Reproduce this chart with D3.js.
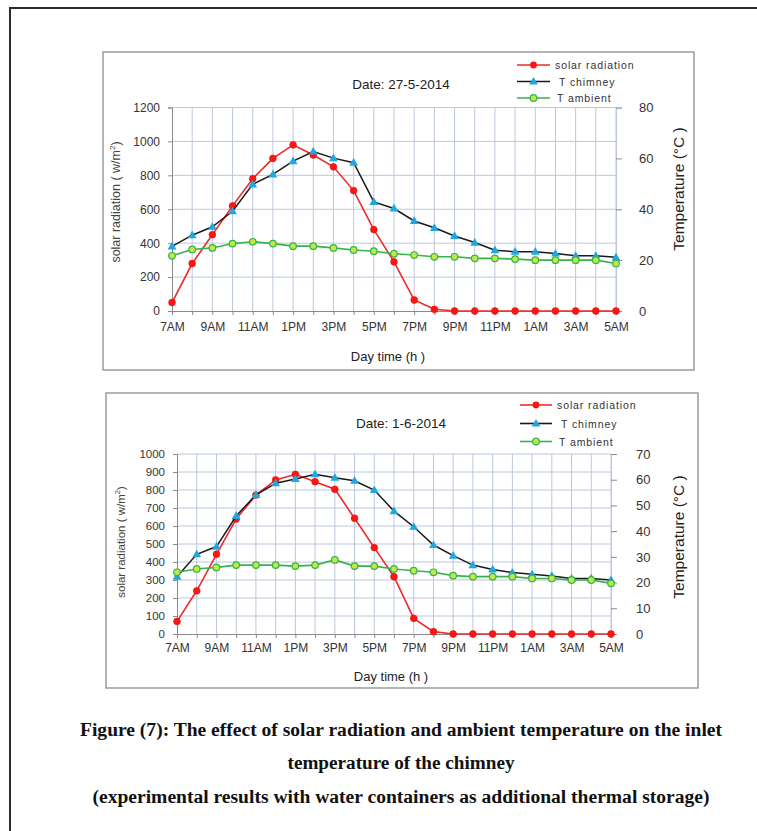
<!DOCTYPE html>
<html><head><meta charset="utf-8">
<script src="https://cdn.jsdelivr.net/npm/d3@7"></script>
<style>
html,body{margin:0;padding:0;background:#fff;}
svg{display:block;}
</style></head>
<body>
<svg id="c" width="757" height="831"></svg>
<script>
// ---- data ----
const hours = ["7AM","8AM","9AM","10AM","11AM","12PM","1PM","2PM","3PM","4PM","5PM","6PM",
  "7PM","8PM","9PM","10PM","11PM","12AM","1AM","2AM","3AM","4AM","5AM"];
const hourLabels = ["7AM","9AM","11AM","1PM","3PM","5PM","7PM","9PM","11PM","1AM","3AM","5AM"];
const seriesNames = ["solar radiation","T chimney","T ambient"];

// Chart 1: 27-5-2014
const solar1 = [50,280,450,620,780,900,980,920,850,710,480,290,65,10,0,0,0,0,0,0,0,0,0];
const chimney1 = [25.4,29.8,33.1,39.2,49.8,53.7,58.9,62.7,60.1,58.3,42.9,40.3,35.4,32.7,29.5,26.9,23.9,23.3,23.3,22.6,21.7,21.7,21.1];
const ambient1 = [21.7,24.2,24.8,26.5,27.2,26.5,25.5,25.5,24.8,24.0,23.5,22.5,22.0,21.3,21.3,20.7,20.7,20.4,20.0,20.0,20.0,20.0,18.7];
const leftTicks1 = [0,200,400,600,800,1000,1200];
const rightTicks1 = [0,20,40,60,80];

// Chart 2: 1-6-2014
const solar2 = [70,240,443,639,772,856,887,846,804,643,480,318,87,13,0,0,0,0,0,0,0,0,0];
const chimney2 = [22.3,31.0,34.0,45.9,54.1,58.6,60.3,62.1,60.8,59.6,56.0,47.8,41.7,34.6,30.5,26.8,25.1,23.9,23.2,22.6,21.6,21.6,21.0];
const ambient2 = [24.0,25.3,25.9,26.8,26.8,26.8,26.4,26.8,28.8,26.4,26.4,25.3,24.6,24.0,22.7,22.3,22.3,22.3,21.6,21.6,21.0,21.0,19.7];
const leftTicks2 = [0,100,200,300,400,500,600,700,800,900,1000];
const rightTicks2 = [0,10,20,30,40,50,60,70];

const captionLines = [
  "Figure (7): The effect of solar radiation and ambient temperature on the inlet",
  "temperature of the chimney",
  "(experimental results with water containers as additional thermal storage)"
];

// ---- styles ----
const C = {red:"#ee2a2a", redM:"#ff1414", black:"#1a1a1a", cyan:"#1ea7e1", green:"#33b54a", greenFill:"#c4e64a",
  grid:"#bcc7dd", axis:"#8a8a8a", text:"#333"};
const FONT = "'Liberation Sans', Arial, sans-serif";

const svg = d3.select("#c");

// page border
svg.append("path").attr("d","M10,831 L10,8 L757,8").attr("fill","none").attr("stroke","#2b2b2b").attr("stroke-width",2);

function drawChart(o){
  const g = svg.append("g");
  g.append("rect").attr("x",o.frame[0]).attr("y",o.frame[1]).attr("width",o.frame[2]-o.frame[0]).attr("height",o.frame[3]-o.frame[1])
    .attr("fill","#fff").attr("stroke","#8c8c8c").attr("stroke-width",1.3);

  const x = d3.scalePoint().domain(hours).range([o.x0,o.x1]);
  const yL = d3.scaleLinear().domain([0,o.leftMax]).range([o.y0,o.y1]);
  const yR = d3.scaleLinear().domain([0,o.rightMax]).range([o.y0,o.y1]);

  // gridlines
  g.append("g").selectAll("line.h").data(o.leftTicks.slice(1)).join("line")
    .attr("x1",o.x0).attr("x2",o.x1).attr("y1",d=>yL(d)).attr("y2",d=>yL(d))
    .attr("stroke",C.grid).attr("stroke-width",1);
  g.append("g").selectAll("line.v").data(hours.slice(1)).join("line")
    .attr("x1",d=>x(d)).attr("x2",d=>x(d)).attr("y1",o.y0).attr("y2",o.y1)
    .attr("stroke",C.grid).attr("stroke-width",1);

  // axes
  const ax = g.append("g").attr("transform",`translate(0,${o.y0})`)
    .call(d3.axisBottom(x).tickSize(4).tickFormat(d=>hourLabels.includes(d)?d:""));
  ax.select(".domain").attr("stroke",C.axis);
  ax.selectAll(".tick line").attr("stroke",C.axis);
  ax.selectAll(".tick text").attr("font-family",FONT).attr("font-size",o.xTickFs).attr("fill",C.text).attr("dy",o.xLabDy);

  const al = g.append("g").attr("transform",`translate(${o.x0},0)`)
    .call(d3.axisLeft(yL).tickValues(o.leftTicks).tickSize(4).tickPadding(o.lPad).tickFormat(d3.format("d")));
  al.select(".domain").attr("stroke",C.axis);
  al.selectAll(".tick line").attr("stroke",C.axis);
  al.selectAll(".tick text").attr("font-family",FONT).attr("font-size",o.tickFs).attr("fill",C.text);

  const ar = g.append("g").attr("transform",`translate(${o.x1},0)`)
    .call(d3.axisRight(yR).tickValues(o.rightTicks).tickSize(6).tickPadding(o.rPad).tickFormat(d3.format("d")));
  ar.select(".domain").attr("stroke",C.grid);
  ar.selectAll(".tick line").attr("stroke",C.axis);
  ar.selectAll(".tick text").attr("font-family",FONT).attr("font-size",o.rTickFs).attr("fill",C.text);

  // series
  const lineL = d3.line().x((d,i)=>x(hours[i])).y(d=>yL(d));
  const lineR = d3.line().x((d,i)=>x(hours[i])).y(d=>yR(d));
  const tri = d3.symbol().type(d3.symbolTriangle).size(34);

  g.append("path").datum(o.solar).attr("d",lineL).attr("fill","none").attr("stroke",C.red).attr("stroke-width",1.6);
  g.append("g").selectAll("circle").data(o.solar).join("circle")
    .attr("cx",(d,i)=>x(hours[i])).attr("cy",d=>yL(d)).attr("r",3.4).attr("fill",C.redM).attr("stroke","#e01010").attr("stroke-width",0.6);

  g.append("path").datum(o.chimney).attr("d",lineR).attr("fill","none").attr("stroke",C.black).attr("stroke-width",1.5);
  g.append("g").selectAll("path").data(o.chimney).join("path")
    .attr("d",tri).attr("transform",(d,i)=>`translate(${x(hours[i])},${yR(d)+0.5})`).attr("fill",C.cyan);

  g.append("path").datum(o.ambient).attr("d",lineR).attr("fill","none").attr("stroke",C.green).attr("stroke-width",1.6);
  g.append("g").selectAll("circle").data(o.ambient).join("circle")
    .attr("cx",(d,i)=>x(hours[i])).attr("cy",d=>yR(d)).attr("r",3.3).attr("fill",C.greenFill).attr("stroke",C.green).attr("stroke-width",1.2);

  // titles
  g.append("text").attr("x",o.titleX).attr("y",o.titleY).attr("text-anchor","middle").attr("dominant-baseline","central")
    .attr("font-family",FONT).attr("font-size",13.5).attr("fill","#222").text(o.title);
  g.append("text").attr("x",o.xTitleX).attr("y",o.xTitleY).attr("text-anchor","middle").attr("dominant-baseline","central")
    .attr("font-family",FONT).attr("font-size",13).attr("fill","#222").text("Day time (h )");
  const lt = g.append("text").attr("transform",`translate(${o.lTitleX},${o.lTitleY}) rotate(-90)`).attr("text-anchor","middle")
    .attr("dominant-baseline","central").attr("font-family",FONT).attr("font-size",o.lTitleFs).attr("fill","#444");
  lt.append("tspan").text("solar radiation ( w/m");
  lt.append("tspan").attr("font-size",o.lTitleFs*0.65).attr("dy",-4).text("2");
  lt.append("tspan").attr("dy",4).text(")");
  g.append("text").attr("transform",`translate(${o.rTitleX},${o.rTitleY}) rotate(-90)`).attr("text-anchor","middle")
    .attr("dominant-baseline","central").attr("font-family",FONT).attr("font-size",o.rTitleFs).attr("fill","#222").text("Temperature (°C )");

  // legend
  const leg = g.append("g");
  seriesNames.forEach((n,i)=>{
    const yy = o.legY[i];
    const col = [C.red,C.black,C.green][i];
    leg.append("line").attr("x1",o.legX0).attr("x2",o.legX1).attr("y1",yy).attr("y2",yy).attr("stroke",col).attr("stroke-width",1.6);
    const mx = (o.legX0+o.legX1)/2;
    if(i===0) leg.append("circle").attr("cx",mx).attr("cy",yy).attr("r",3.4).attr("fill",C.redM);
    if(i===1) leg.append("path").attr("d",tri).attr("transform",`translate(${mx},${yy+0.5})`).attr("fill",C.cyan);
    if(i===2) leg.append("circle").attr("cx",mx).attr("cy",yy).attr("r",3.3).attr("fill",C.greenFill).attr("stroke",C.green).attr("stroke-width",1.2);
    leg.append("text").attr("x",o.legTx + (i===1?4:(i===2?2:0))).attr("y",yy).attr("dominant-baseline","central")
      .attr("font-family",FONT).attr("font-size",10.5).attr("letter-spacing",0.9).attr("fill","#333").text(n);
  });
}

drawChart({
  frame:[103,52,694,370], x0:172, x1:616, y0:311, y1:107.5,
  leftMax:1200, rightMax:80, leftTicks:leftTicks1, rightTicks:rightTicks1,
  solar:solar1, chimney:chimney1, ambient:ambient1,
  tickFs:12, xTickFs:12, rTickFs:13, xLabDy:"1.05em", lPad:8, rPad:17,
  title:"Date: 27-5-2014", titleX:401, titleY:84,
  xTitleX:388, xTitleY:356,
  lTitleX:116, lTitleY:202, lTitleFs:12.5,
  rTitleX:678, rTitleY:189, rTitleFs:15.5,
  legX0:517, legX1:550, legTx:555, legY:[65,81.5,98]
});

drawChart({
  frame:[106,393,698,688], x0:177, x1:611, y0:634, y1:454,
  leftMax:1000, rightMax:70, leftTicks:leftTicks2, rightTicks:rightTicks2,
  solar:solar2, chimney:chimney2, ambient:ambient2,
  tickFs:11.5, xTickFs:12, rTickFs:13, xLabDy:"0.95em", lPad:8, rPad:19,
  title:"Date: 1-6-2014", titleX:401, titleY:423,
  xTitleX:391, xTitleY:676,
  lTitleX:121, lTitleY:542, lTitleFs:11.5,
  rTitleX:678, rTitleY:537, rTitleFs:15.5,
  legX0:520, legX1:552, legTx:557, legY:[405,423.5,441.5]
});

// caption
const capY = [730,763,797];
const capLen = [642,227,617];
captionLines.forEach((t,i)=>{
  svg.append("text").attr("x",401).attr("y",capY[i]).attr("text-anchor","middle").attr("dominant-baseline","central")
    .attr("font-family","'Liberation Serif','Times New Roman',serif").attr("font-weight","bold").attr("font-size",18)
    .attr("fill","#111").attr("textLength",capLen[i]).attr("lengthAdjust","spacingAndGlyphs").text(t);
});
</script>
</body></html>
